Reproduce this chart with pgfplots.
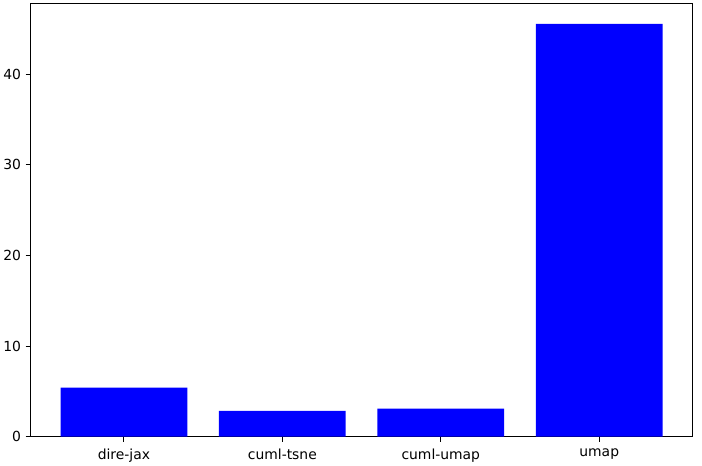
\documentclass[border=0pt]{standalone}
\usepackage{pgfplots}
\pgfplotsset{compat=1.18}
\usepackage{fontspec}
\setmainfont{DejaVu Sans}
\begin{document}
\begin{tikzpicture}[x=1pt,y=1pt]
\begin{axis}[
  at={(0,0)}, anchor=south west,
  scale only axis,
  width=662.7pt, height=433.7pt,
  xmin=-0.59, xmax=3.59,
  ymin=0, ymax=47.83,
  xtick={0,1,2,3},
  xticklabels={dire-jax,cuml-tsne,cuml-umap,umap},
  ytick={0,10,20,30,40},
  tick pos=left,
  tick align=outside,
  major tick length=4.9pt,
  axis line style={line width=1.1pt},
  every tick/.style={black, line width=1.1pt},
  tick label style={font=\fontsize{13.9}{16}\selectfont},
  /pgf/number format/assume math mode=true,
  xticklabel style={yshift=-3.5pt},
  yticklabel style={xshift=-1pt},
]
\addplot[ybar, bar width=0.8, fill=blue, draw=none] coordinates {
  (0,5.41) (1,2.84) (2,3.09) (3,45.55)
};
\end{axis}
\useasboundingbox (-30,-25) rectangle (672,437);
\end{tikzpicture}
\end{document}
